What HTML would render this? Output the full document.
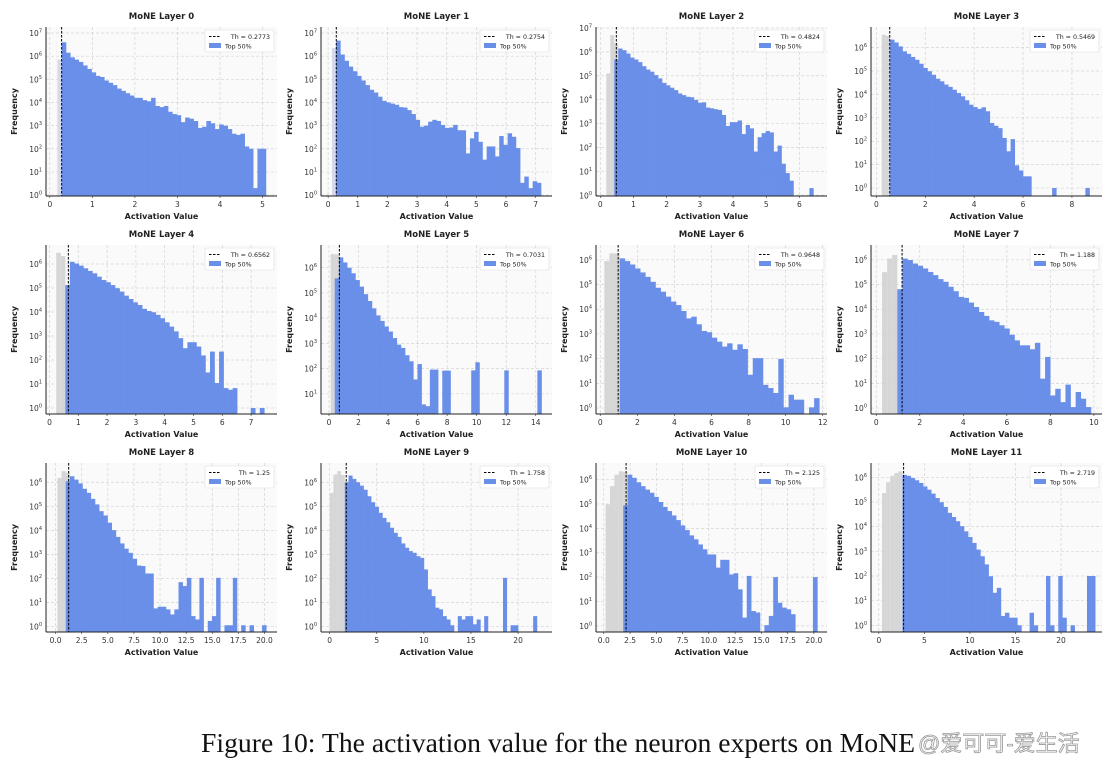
<!DOCTYPE html>
<html><head><meta charset="utf-8"><style>
body{margin:0;background:#fff;width:1117px;height:768px;overflow:hidden}
svg{display:block}
</style></head><body>
<svg id="fig" width="1117" height="768" xmlns="http://www.w3.org/2000/svg" font-family="'DejaVu Sans','Liberation Sans',sans-serif">
<text x="201" y="752" font-family="'Liberation Serif',serif" font-size="27.5" textLength="714" lengthAdjust="spacingAndGlyphs" fill="#111">Figure 10: The activation value for the neuron experts on MoNE</text>
<text x="918" y="751" font-family="'Liberation Sans','Noto Sans CJK SC',sans-serif" font-size="22" fill="#fff" stroke="#999" stroke-width="0.8">@爱可可-爱生活</text>
</svg>
<script>
const titles = ["MoNE Layer 0","MoNE Layer 1","MoNE Layer 2","MoNE Layer 3","MoNE Layer 4","MoNE Layer 5","MoNE Layer 6","MoNE Layer 7","MoNE Layer 8","MoNE Layer 9","MoNE Layer 10","MoNE Layer 11"];
const thresholds = [0.2773,0.2754,0.4824,0.5469,0.6562,0.7031,0.9648,1.188,1.25,1.758,2.125,2.719];
const xLimits = [[-0.09,5.34],[-0.24,7.55],[-0.13,6.83],[-0.22,9.23],[-0.12,7.9],[-0.54,15.1],[-0.23,12.23],[-0.24,10.37],[-0.92,21.2],[-0.92,23.6],[-0.74,21.25],[-0.86,24.5]];
const yLimits = [[-0.04,7.26],[-0.04,7.26],[-0.03,7.04],[-0.34,6.88],[-0.25,6.79],[0.2,6.9],[-0.24,6.6],[-0.24,6.6],[-0.22,6.8],[-0.22,6.8],[-0.25,6.68],[-0.27,6.58]];
const xTickLabels = [["0","1","2","3","4","5"],["0","1","2","3","4","5","6","7"],["0","1","2","3","4","5","6"],["0","2","4","6","8"],["0","1","2","3","4","5","6","7"],["0","2","4","6","8","10","12","14"],["0","2","4","6","8","10","12"],["0","2","4","6","8","10"],["0.0","2.5","5.0","7.5","10.0","12.5","15.0","17.5","20.0"],["0","5","10","15","20"],["0.0","2.5","5.0","7.5","10.0","12.5","15.0","17.5","20.0"],["0","5","10","15","20"]];
const yTickExponents = [[0,1,2,3,4,5,6,7],[0,1,2,3,4,5,6,7],[0,1,2,3,4,5,6,7],[0,1,2,3,4,5,6],[0,1,2,3,4,5,6],[1,2,3,4,5,6],[0,1,2,3,4,5,6],[0,1,2,3,4,5,6],[0,1,2,3,4,5,6],[0,1,2,3,4,5,6],[0,1,2,3,4,5,6],[0,1,2,3,4,5,6]];
const binStarts = [0.18,0.13,0.18,0.22,0.236,0.11,0.22,0.268,0.17,0.0,0.17,0.35];
const binWidths = [0.1,0.141,0.12,0.17,0.157,0.28,0.276,0.234,0.4,0.4,0.42,0.45];
const blueOffsets = [1,1,2,2,2,1,3,3,2,4,4,5];
// log10(frequency) per bin, all activations (gray)
const grayLog10Freq = [[5.85],[6.35],[5.1,6.7,6.35],[6.55,6.5],[6.47,6.33],[6.54,6.53],[5.95,6.26,6.26],[5.5,6.05,6.2],[6.18,6.46,6.4],[5.56,6.32,6.46,6.3],[4.98,5.73,6.2,6.34,6.3],[5.36,5.8,6.06,6.17,6.24]];
// log10(frequency) per bin, top 50% (blue)
const blueLog10Freq = [
[6.6,6.15,5.95,5.85,5.75,5.6,5.45,5.3,5.15,5.1,4.95,4.85,4.75,4.6,4.5,4.4,4.3,4.2,4.2,4.1,4.05,4.2,3.85,3.8,3.85,3.6,3.5,3.45,3.15,3.35,3.3,3.2,2.9,2.95,3.2,3.1,2.85,3.05,3.0,2.85,2.65,2.6,2.65,2.1,2.0,0.3,2.0,2.0],
[6.67,6.07,5.8,5.55,5.35,5.15,4.95,4.75,4.55,4.43,4.25,4.07,4.0,3.95,3.9,3.8,3.78,3.67,3.5,3.25,2.95,3.0,3.17,3.25,3.2,3.03,2.9,2.92,3.03,2.8,2.8,1.8,2.45,2.73,2.3,1.53,2.1,2.1,1.67,2.55,2.17,2.67,2.52,2.03,0.53,0.8,0.3,0.6,0.53],
[5.68,6.14,6.07,5.93,5.76,5.68,5.57,5.4,5.26,5.17,5.03,4.89,4.7,4.6,4.5,4.4,4.26,4.19,4.12,4.1,3.99,3.87,3.89,3.67,3.64,3.6,3.57,3.36,2.9,3.06,3.06,3.13,2.56,2.94,2.8,1.83,2.43,2.6,2.69,2.63,1.83,2.08,1.32,0.93,0.61,null,null,null,null,0.3],
[6.34,6.22,6.05,5.84,5.73,5.6,5.48,5.31,5.13,4.99,4.84,4.67,4.56,4.42,4.32,4.2,4.06,3.92,3.75,3.56,3.46,3.38,3.45,3.28,2.78,2.66,2.56,2.14,1.57,2.09,0.97,0.75,0.5,0.5,null,null,null,null,null,0,null,null,null,null,null,null,null,0],
[5.12,6.09,6.02,5.93,5.82,5.71,5.61,5.47,5.33,5.24,5.12,4.99,4.85,4.68,4.54,4.4,4.29,4.13,4.04,3.99,3.88,3.74,3.57,3.39,3.19,2.91,2.49,2.74,2.74,2.56,2.19,1.48,2.35,1.04,2.35,0.83,0.76,0.83,null,null,null,0,null,0],
[5.58,6.41,6.21,6.0,5.78,5.51,5.25,4.95,4.68,4.39,4.11,3.89,3.67,3.47,3.21,2.95,2.82,2.53,2.29,1.57,2.18,0.58,0.51,1.96,1.96,null,1.92,1.92,null,null,null,null,null,1.93,2.25,null,null,null,null,null,null,1.93,null,null,null,null,null,null,null,1.93],
[6.06,5.95,5.81,5.65,5.49,5.31,5.11,4.87,4.71,4.51,4.31,4.17,3.93,3.63,3.7,3.39,3.12,3.07,2.85,2.69,2.49,2.62,2.36,2.58,2.39,1.35,2.02,2.02,0.94,0.81,0.61,1.99,0.03,0.54,0.34,0.34,null,0.03,0.4],
[4.81,6.05,5.99,5.85,5.76,5.65,5.51,5.38,5.22,5.11,4.91,4.73,4.5,4.46,4.27,4.09,3.89,3.73,3.55,3.49,3.35,3.22,2.97,2.74,2.54,2.54,2.38,2.64,1.19,2.07,0.51,0.78,0.24,0.95,0.04,0.65,0.38,0.04],
[6.04,6.25,6.11,5.95,5.73,5.56,5.31,5.08,4.8,4.62,4.32,4.01,3.73,3.46,3.24,3.07,2.82,2.54,2.52,2.21,2.21,0.76,0.83,0.83,0.72,0.51,0.72,1.85,1.69,2.03,0.44,0.3,2.03,null,0.24,0.44,2.03,null,0.06,0.06,2.03,null,0.06,null,0.06,null,null,0.06],
[6.0,6.28,6.14,6.0,5.86,5.69,5.42,5.17,4.98,4.73,4.52,4.34,4.11,3.9,3.73,3.46,3.28,3.14,3.07,2.93,2.86,2.38,1.55,1.27,0.79,0.72,0.44,0.3,0.06,null,0.44,0.3,0.44,0.44,0.1,0.3,null,0.44,null,null,null,null,2.03,null,0.06,0.06,null,null,null,null,0.44],
[4.94,6.2,6.07,5.89,5.73,5.59,5.46,5.29,5.08,4.88,4.71,4.53,4.34,4.12,3.93,3.71,3.55,3.34,3.14,2.93,2.93,2.39,2.71,2.71,2.11,2.16,1.5,0.34,2.05,0.61,0.55,null,0.03,0.41,2.0,0.95,0.75,0.68,0.48,null,null,null,null,2.0],
[6.1,6.06,5.97,5.88,5.77,5.63,5.5,5.34,5.16,4.99,4.8,4.56,4.39,4.22,4.02,3.81,3.58,3.34,3.07,2.8,2.47,1.99,1.32,1.52,0.38,0.51,0.31,0.31,0,null,null,0.51,0,null,null,2.0,0,null,2.0,0.31,null,0,null,null,null,2.0,2.0]
];

const NS = "http://www.w3.org/2000/svg";
const svg = document.getElementById('fig');
const colLefts = [46,321,596,871], plotW = 231;
const rowTops = [27,245,463], plotH = 169;
function mk(tag, attrs, parent){const e=document.createElementNS(NS,tag);for(const k in attrs)e.setAttribute(k,attrs[k]);(parent||svg).appendChild(e);return e;}

for (let p = 0; p < 12; p++) {
  const L = colLefts[p%4], T = rowTops[Math.floor(p/4)], R = L+plotW, B = T+plotH;
  const [x0,x1] = xLimits[p], [y0,y1] = yLimits[p];
  const sx = v => L + (v-x0)/(x1-x0)*plotW;
  const sy = v => B - (v-y0)/(y1-y0)*plotH;
  const g = mk('g',{});
  
  
  const bg = mk('rect',{x:L,y:T,width:plotW,height:plotH,fill:'#fafafa'},g);
  
  
  xTickLabels[p].forEach(t=>{const X=sx(parseFloat(t));
    const gl=mk('line',{x1:X,x2:X,y1:T,y2:B,stroke:'#d4d4d4','stroke-width':0.7,'stroke-dasharray':'3,2'},g);
    
    
    const tl=mk('text',{x:X,y:B+11,'font-size':7.5,fill:'#333','text-anchor':'middle'},g);tl.textContent=t;
    
    
    mk('line',{x1:X,x2:X,y1:B,y2:B+2,stroke:'#333','stroke-width':0.6},g);
  });
  yTickExponents[p].forEach(e=>{const Y=sy(e);
    const gl=mk('line',{x1:L,x2:R,y1:Y,y2:Y,stroke:'#d4d4d4','stroke-width':0.7,'stroke-dasharray':'3,2'},g);
    
    
    const tl=mk('text',{x:L-4,y:Y+3,'font-size':7.5,fill:'#333','text-anchor':'end'},g);
    
    
    const a=document.createElementNS(NS,'tspan');a.textContent='10';tl.appendChild(a);
    const b=document.createElementNS(NS,'tspan');b.setAttribute('dy','-3.5');b.setAttribute('font-size','5');b.textContent=String(e);tl.appendChild(b);
  });
  const bw = binWidths[p], bs = binStarts[p];
  grayLog10Freq[p].forEach((v,i)=>{ if(v===null) return;
    const xa=sx(bs+i*bw), xb=sx(bs+(i+1)*bw), ya=sy(v);
    const r=mk('rect',{x:xa,y:ya,width:Math.max(0,xb-xa),height:Math.max(0,B-ya),fill:p<2?'#d6d8ec':'#d6d6d6'},g);
    
    
  });
  const off = blueOffsets[p];
  blueLog10Freq[p].forEach((v,i)=>{ if(v===null) return;
    const xa=sx(bs+(off+i)*bw), xb=sx(bs+(off+i+1)*bw), ya=sy(v);
    const r=mk('rect',{x:xa,y:ya,width:Math.max(0,xb-xa)+0.3,height:Math.max(0,B-ya),fill:'#6a8fe9'},g);
    
    
  });
  const thX = sx(thresholds[p]);
  const th = mk('line',{x1:thX,x2:thX,y1:T,y2:B,stroke:'#000','stroke-width':1,'stroke-dasharray':'2.5,1.5'},g);
  
  
  const sl=mk('line',{x1:L,x2:L,y1:T,y2:B,stroke:'#222','stroke-width':1},g);
  
  
  const sb=mk('line',{x1:L,x2:R,y1:B,y2:B,stroke:'#222','stroke-width':1},g);
  
  
  const tt=mk('text',{x:L+plotW/2,y:T-8,'font-size':8.5,'font-weight':'bold',fill:'#222','text-anchor':'middle'},g);tt.textContent=titles[p];
  
  
  const xl=mk('text',{x:L+plotW/2,y:B+23,'font-size':8,'font-weight':'bold',fill:'#222','text-anchor':'middle'},g);xl.textContent='Activation Value';
  
  
  const yl=mk('text',{x:0,y:0,'font-size':8,'font-weight':'bold',fill:'#222','text-anchor':'middle',transform:`translate(${L-29},${T+plotH/2}) rotate(-90)`},g);yl.textContent='Frequency';
  
  
  const lg=mk('g',{},g);
  
  
  const lx=R-72, ly=T+3;
  mk('rect',{x:lx,y:ly,width:69,height:22,fill:'#fff',stroke:'#ddd','stroke-width':0.6,rx:1.5},lg);
  mk('line',{x1:lx+4,x2:lx+16,y1:ly+6.5,y2:ly+6.5,stroke:'#000','stroke-width':1,'stroke-dasharray':'2.5,1.5'},lg);
  const t1=mk('text',{x:lx+65,y:ly+9,'font-size':6.3,fill:'#222','text-anchor':'end'},lg);t1.textContent='Th = '+thresholds[p];
  
  
  mk('rect',{x:lx+4,y:ly+13,width:12,height:5,fill:'#6a8fe9'},lg);
  const t2=mk('text',{x:lx+20,y:ly+18.5,'font-size':6.3,fill:'#222'},lg);t2.textContent='Top 50%';
  
  
}
</script>
</body></html>
